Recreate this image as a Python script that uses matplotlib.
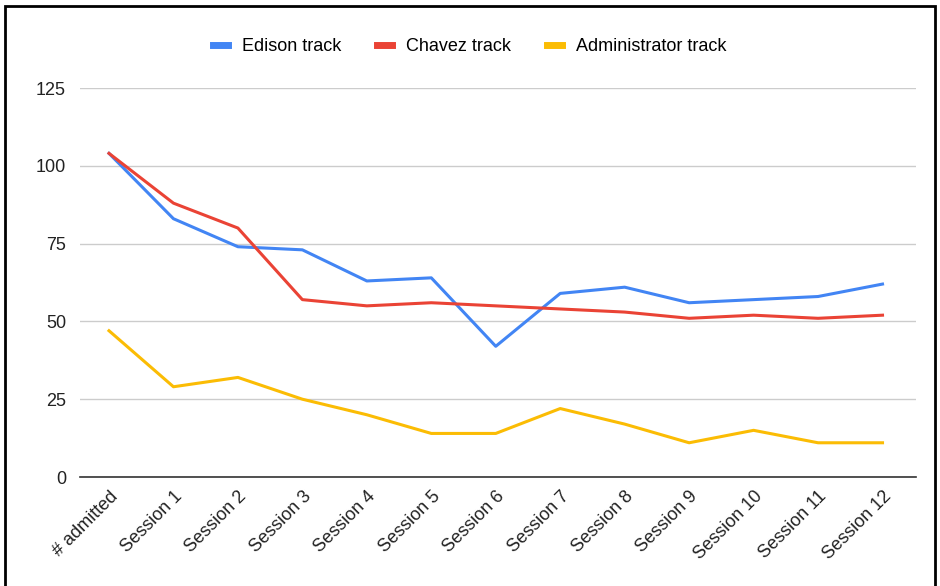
import matplotlib.pyplot as plt
from matplotlib.patches import Rectangle

plt.rcParams['font.family'] = ['Liberation Sans', 'DejaVu Sans']

categories = ["# admitted", "Session 1", "Session 2", "Session 3", "Session 4",
              "Session 5", "Session 6", "Session 7", "Session 8", "Session 9",
              "Session 10", "Session 11", "Session 12"]
edison = [104, 83, 74, 73, 63, 64, 42, 59, 61, 56, 57, 58, 62]
chavez = [104, 88, 80, 57, 55, 56, 55, 54, 53, 51, 52, 51, 52]
admin = [47, 29, 32, 25, 20, 14, 14, 22, 17, 11, 15, 11, 11]
y_ticks = [0, 25, 50, 75, 100, 125]

fig = plt.figure(figsize=(9.4, 5.86), dpi=100)
ax = fig.add_axes([0.0851, 0.186, 0.8894, 0.6638])

x = list(range(len(categories)))
ax.plot(x, edison, color="#4285F4", lw=2.2, label="Edison track", solid_joinstyle="round")
ax.plot(x, chavez, color="#EA4335", lw=2.2, label="Chavez track", solid_joinstyle="round")
ax.plot(x, admin, color="#FBBC04", lw=2.2, label="Administrator track", solid_joinstyle="round")

ax.set_xlim(-0.45, 12.52)
ax.set_ylim(0, 125)
ax.set_yticks(y_ticks)
ax.set_yticklabels([str(v) for v in y_ticks], fontsize=13, color="#222222")
ax.set_xticks(x)
ax.set_xticklabels(categories, rotation=45, ha="right", rotation_mode="anchor",
                   fontsize=13, color="#222222")
ax.tick_params(axis="both", length=0)
ax.tick_params(axis="y", pad=10)
ax.tick_params(axis="x", pad=8)

ax.grid(axis="y", color="#cccccc", lw=1)
ax.set_axisbelow(True)
for s in ["top", "right", "left"]:
    ax.spines[s].set_visible(False)
ax.spines["bottom"].set_color("#333333")
ax.spines["bottom"].set_linewidth(1.2)

fig.legend(loc="center", bbox_to_anchor=(0.5, 0.92), ncol=3, frameon=False,
           fontsize=13, handlelength=0.8, handletextpad=0.8, columnspacing=2.0)
for line in fig.legends[0].get_lines():
    line.set_linewidth(5)

fig.patches.append(Rectangle((0.005, -0.01), 0.99, 1.0, transform=fig.transFigure,
                             fill=False, edgecolor="black", lw=2))

fig.savefig("out.png", dpi=100)
